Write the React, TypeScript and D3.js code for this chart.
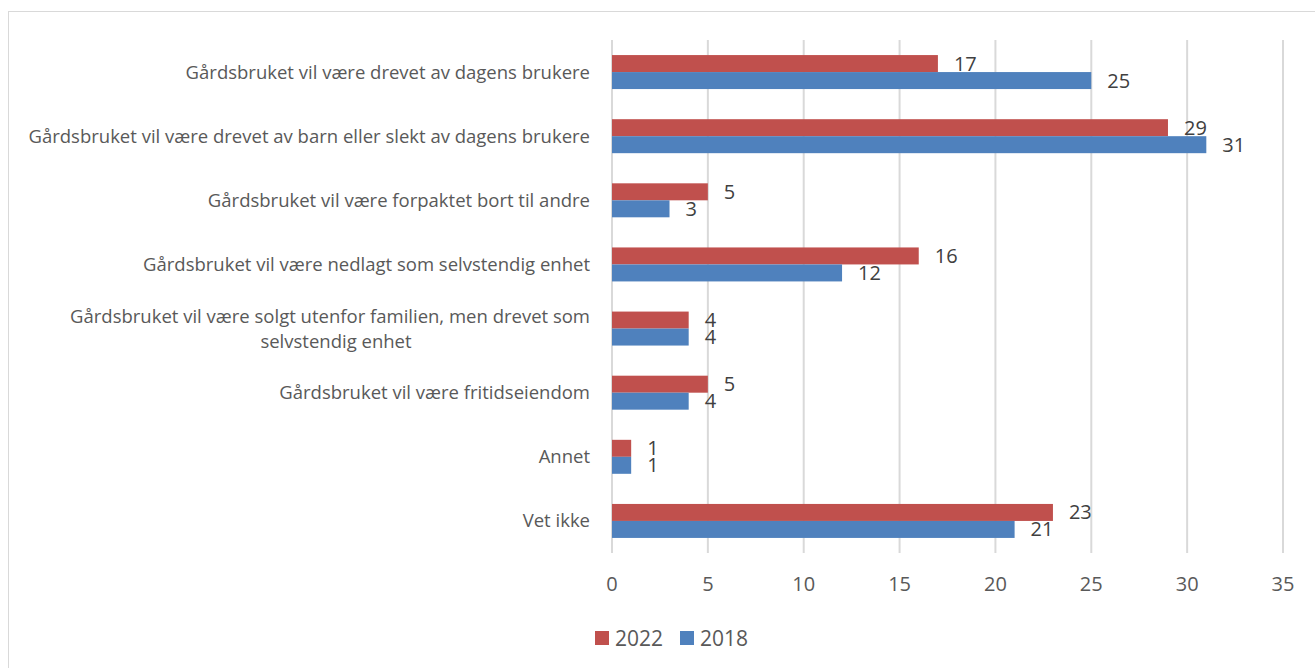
import React from "react";
import * as d3 from "d3";

const categories: string[][] = [
  ["Gårdsbruket vil være drevet av dagens brukere"],
  ["Gårdsbruket vil være drevet av barn eller slekt av dagens brukere"],
  ["Gårdsbruket vil være forpaktet bort til andre"],
  ["Gårdsbruket vil være nedlagt som selvstendig enhet"],
  ["Gårdsbruket vil være solgt utenfor familien, men drevet som", "selvstendig enhet"],
  ["Gårdsbruket vil være fritidseiendom"],
  ["Annet"],
  ["Vet ikke"],
];
const values2022: number[] = [17, 29, 5, 16, 4, 5, 1, 23];
const values2018: number[] = [25, 31, 3, 12, 4, 4, 1, 21];
const seriesNames: string[] = ["2022", "2018"];
const seriesColors: string[] = ["#C0504D", "#4F81BD"];
const xTicks: number[] = [0, 5, 10, 15, 20, 25, 30, 35];

const W = 1315;
const H = 668;
const FONT = "'Open Sans', sans-serif";

export default function App() {
  const x = d3.scaleLinear().domain([0, 35]).range([612, 1283]);
  const y = d3
    .scaleBand<number>()
    .domain(d3.range(categories.length))
    .range([40, 553])
    .paddingInner(0.47)
    .paddingOuter(0.235);
  const inner = d3.scaleBand<string>().domain(seriesNames).range([0, y.bandwidth()]);
  const series = [values2022, values2018];

  return (
    <svg
      width={W}
      height={H}
      style={{ position: "absolute", left: 0, top: 0, display: "block", background: "#fff" }}
      fontFamily={FONT}
    >
      <rect x={8.5} y={11.5} width={1330} height={680} fill="#fff" stroke="#D9D9D9" strokeWidth={1} />
      {xTicks.map((t) => (
        <line key={t} x1={x(t)} x2={x(t)} y1={40} y2={553} stroke="#D9D9D9" strokeWidth={2} />
      ))}
      {xTicks.map((t) => (
        <text key={"t" + t} x={x(t)} y={591} textAnchor="middle" fontSize={20} fill="#595959">
          {t}
        </text>
      ))}
      {categories.map((lines, i) => {
        const cy = (y(i) as number) + y.bandwidth() / 2;
        if (lines.length === 1) {
          return (
            <text key={"c" + i} x={590} y={cy + 6.5} textAnchor="end" fontSize={18.5} fill="#595959">
              {lines[0]}
            </text>
          );
        }
        return (
          <g key={"c" + i}>
            <text x={590} y={cy - 5.5} textAnchor="end" fontSize={18.5} fill="#595959">
              {lines[0]}
            </text>
            <text x={336} y={cy + 19.5} textAnchor="middle" fontSize={18.5} fill="#595959">
              {lines[1]}
            </text>
          </g>
        );
      })}
      {series.map((vals, s) =>
        vals.map((v, i) => {
          const by = (y(i) as number) + (inner(seriesNames[s]) as number);
          return (
            <g key={`b${s}-${i}`}>
              <rect
                x={x(0)}
                y={by}
                width={x(v) - x(0)}
                height={inner.bandwidth()}
                fill={seriesColors[s]}
              />
              <text
                x={x(v) + 16}
                y={by + inner.bandwidth() / 2 + 7}
                fontSize={20}
                fill="#404040"
              >
                {v}
              </text>
            </g>
          );
        })
      )}
      {seriesNames.map((n, s) => (
        <g key={"l" + n} transform={`translate(${595 + s * 85},631)`}>
          <rect x={0} y={0} width={14} height={14} fill={seriesColors[s]} />
          <text x={20} y={14.5} fontSize={21} fill="#595959">
            {n}
          </text>
        </g>
      ))}
    </svg>
  );
}
